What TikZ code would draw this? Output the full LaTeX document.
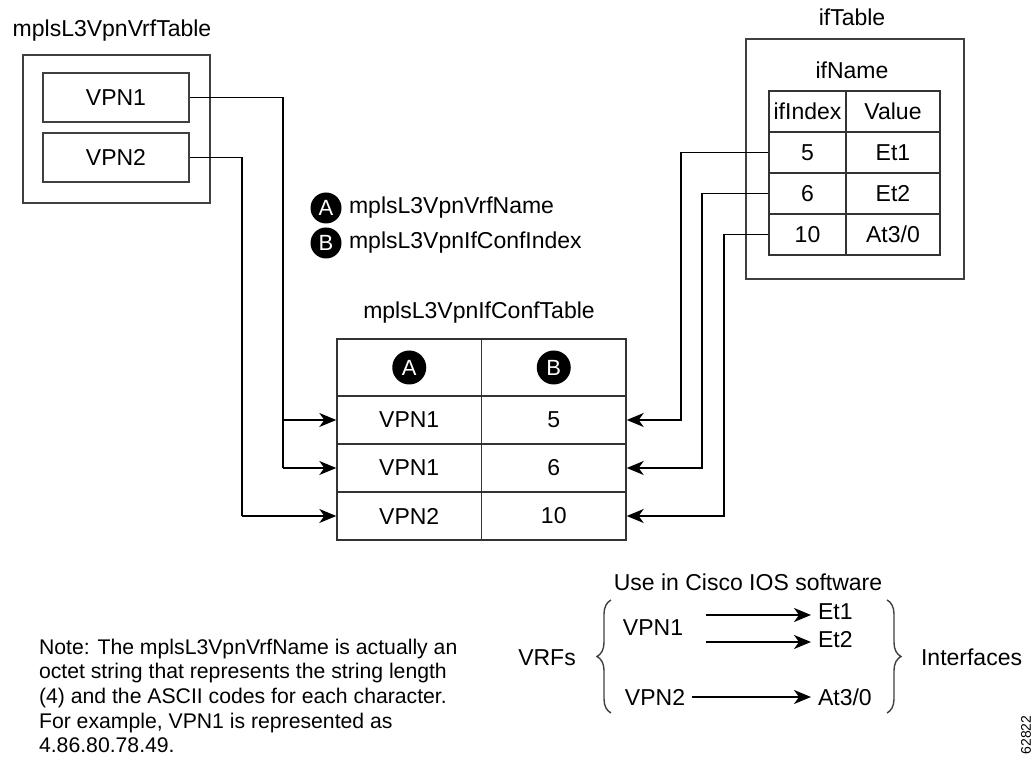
\documentclass[tikz,border=0pt]{standalone}
\usepackage{fontspec}
\setmainfont{Liberation Sans}
\usepackage{tikz}
\usetikzlibrary{arrows.meta,calc,decorations.pathreplacing}

\begin{document}
\begin{tikzpicture}[x=0.5pt,y=-0.5pt,
	font=\fontsize{11.5}{13}\selectfont,
	frame/.style={draw=black!75,line width=0.8pt},
	cell/.style={draw=black!80,line width=0.7pt,inner sep=0pt},
	link/.style={draw=black,line width=0.8pt},
	arr/.style={link,-{Stealth[length=8.5pt,width=7pt,inset=2.5pt]}},
	badge/.style={circle,fill=black,text=white,inner sep=0pt,minimum size=17pt,font=\fontsize{11}{11}\selectfont},
	brc/.style={draw=black!75,line width=0.7pt,decorate,decoration={brace,amplitude=7pt}}]
	\useasboundingbox (0,0) rectangle (1034,763);

	\node (vrfttl) at (112,31) {mplsL3VpnVrfTable};
	\node[frame,minimum width=93.5pt,minimum height=74pt] (vrftab) at (116.5,129) {};
	\node[frame,minimum width=73pt,minimum height=24.5pt] (vpnA) at (116,97.5) {VPN1};
	\node[frame,minimum width=73pt,minimum height=24.5pt] (vpnB) at (116,157.5) {VPN2};

	\node (ifttl) at (852,17) {ifTable};
	\node[frame,minimum width=109pt,minimum height=120pt] (iftab) at (855,159) {};
	\node (ifname) at (852,70) {ifName};
	\node[cell,minimum width=38.5pt,minimum height=20.5pt] (ih1) at (807.5,111.5) {ifIndex};
	\node[cell,minimum width=47pt,minimum height=20.5pt] (ih2) at (893,111.5) {Value};
	\node[cell,minimum width=38.5pt,minimum height=20.5pt] (i1a) at (807.5,152.5) {5};
	\node[cell,minimum width=47pt,minimum height=20.5pt] (i1b) at (893,152.5) {Et1};
	\node[cell,minimum width=38.5pt,minimum height=20.5pt] (i2a) at (807.5,193.5) {6};
	\node[cell,minimum width=47pt,minimum height=20.5pt] (i2b) at (893,193.5) {Et2};
	\node[cell,minimum width=38.5pt,minimum height=20.5pt] (i3a) at (807.5,234.5) {10};
	\node[cell,minimum width=47pt,minimum height=20.5pt] (i3b) at (893,234.5) {At3/0};

	\node[badge,minimum size=15.5pt] (lgA) at (326,208) {A};
	\node[anchor=west] (lgAt) at (342,208) {mplsL3VpnVrfName};
	\node[badge,minimum size=15.5pt] (lgB) at (326,243) {B};
	\node[anchor=west] (lgBt) at (342,243) {mplsL3VpnIfConfIndex};

	\node (cfttl) at (479,313) {mplsL3VpnIfConfTable};
	\node[cell,minimum width=72.25pt,minimum height=28.5pt] (hA) at (409.25,367.5) {};
	\node[cell,minimum width=72.25pt,minimum height=28.5pt] (hB) at (553.75,367.5) {};
	\node[badge] at (hA) {A};
	\node[badge] at (hB) {B};
	\node[cell,minimum width=72.25pt,minimum height=24pt] (r1a) at (409.25,420) {VPN1};
	\node[cell,minimum width=72.25pt,minimum height=24pt] (r1b) at (553.75,420) {5};
	\node[cell,minimum width=72.25pt,minimum height=24pt] (r2a) at (409.25,468) {VPN1};
	\node[cell,minimum width=72.25pt,minimum height=24pt] (r2b) at (553.75,468) {6};
	\node[cell,minimum width=72.25pt,minimum height=24pt] (r3a) at (409.25,516) {VPN2};
	\node[cell,minimum width=72.25pt,minimum height=24pt] (r3b) at (553.75,516) {10};

	\coordinate (jA) at (283,468);
	\coordinate (jB) at (242,516);
	\draw[link] (vpnA.east) -| (jA);
	\draw[arr] (jA) -- (r2a.west);
	\draw[arr] (jA |- r1a) -- (r1a.west);
	\draw[link] (vpnB.east) -| (jB);
	\draw[arr] (jB) -- (r3a.west);
	\draw[arr] (i1a.west) -| (681,420) -- (r1b.east);
	\draw[arr] (i2a.west) -| (702,468) -- (r2b.east);
	\draw[arr] (i3a.west) -| (724,516) -- (r3b.east);

	\node[anchor=west,align=left,font=\fontsize{10.6}{12.3}\selectfont] (note) at (32,696) {Note: The mplsL3VpnVrfName is actually an\\octet string that represents the string length\\(4) and the ASCII codes for each character.\\For example, VPN1 is represented as\\4.86.80.78.49.};

	\node (usettl) at (748,582) {Use in Cisco IOS software};
	\node (vrfs) at (547,658) {VRFs};
	\node (uvA) at (653,628) {VPN1};
	\node (uvB) at (655,697) {VPN2};
	\node[anchor=west] (ueA) at (811,612) {Et1};
	\node[anchor=west] (ueB) at (811,640) {Et2};
	\node[anchor=west] (ueC) at (811,697) {At3/0};
	\node[anchor=west] (intf) at (914,657) {Interfaces};
	\draw[arr] ([xshift=8pt]uvA.east |- 0,615) -- (ueA.west |- 0,615);
	\draw[arr] ([xshift=8pt]uvA.east |- 0,642) -- (ueB.west |- 0,642);
	\draw[arr] (uvB.east) -- (ueC.west);
	\draw[brc] (611,713) -- (611,600);
	\draw[brc] (887,600) -- (887,713);

	\node[rotate=90,font=\fontsize{7}{7}\selectfont] (figid) at (1026,735) {62822};
\end{tikzpicture}
\end{document}
